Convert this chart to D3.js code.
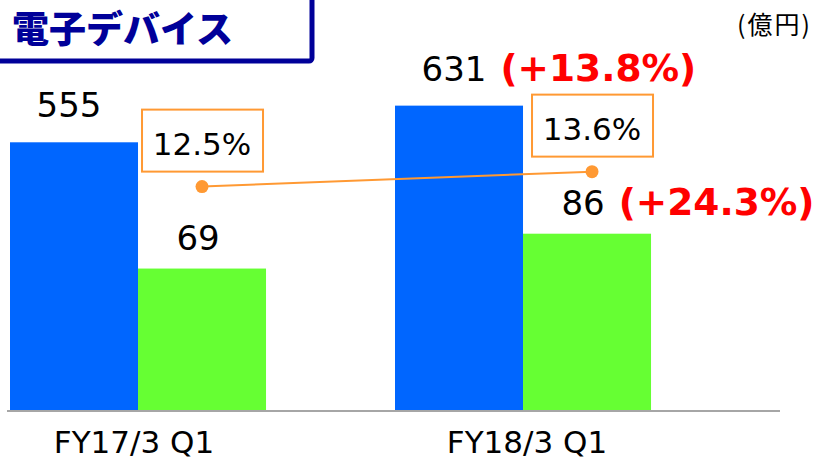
<!DOCTYPE html>
<html>
<head>
<meta charset="utf-8">
<script src="https://cdn.jsdelivr.net/npm/d3@7"></script>
<style>
  body { margin: 0; background: #fff; }
  svg text { font-family: "DejaVu Sans", Verdana, sans-serif; }
</style>
</head>
<body>
<svg id="chart"></svg>
<script>
// values
const categories = ["FY17/3 Q1", "FY18/3 Q1"];
const sales = [555, 631];           // 売上 (億円)
const profit = [69, 86];            // 営業利益 (億円)
const margin = [12.5, 13.6];        // 利益率 %
const salesGrowth = [null, "(+13.8%)"];
const profitGrowth = [null, "(+24.3%)"];

const W = 819, H = 462;
const base = 410;

const svg = d3.select("#chart").attr("width", W).attr("height", H);

// title box, only right and bottom edges are visible
svg.append("rect")
    .attr("x", -20).attr("y", -20)
    .attr("width", 332).attr("height", 81)
    .attr("rx", 3)
    .attr("fill", "#fff")
    .attr("stroke", "#000099")
    .attr("stroke-width", 5);

svg.append("text")
    .attr("x", 12).attr("y", 43)
    .attr("font-size", 37)
    .attr("font-weight", 900)
    .attr("fill", "#000099")
    .style("font-family", "'Noto Sans CJK JP', sans-serif")
    .text("電子デバイス");

svg.append("text")
    .attr("x", 812).attr("y", 34)
    .attr("text-anchor", "end")
    .attr("font-size", 25)
    .attr("letter-spacing", 2)
    .attr("fill", "#000")
    .style("font-family", "'Noto Sans CJK JP', sans-serif")
    .text("(億円)");

const x0 = d3.scaleBand()
    .domain(categories)
    .range([10, 780])
    .paddingInner(0.335)
    .paddingOuter(0.1675)
    .align(0);

const x1 = d3.scaleBand()
    .domain(["sales", "profit"])
    .range([0, x0.bandwidth()]);

const ySales = d3.scaleLinear().domain([0, 850]).range([base, 0]);
const yProfit = d3.scaleLinear().domain([0, 200]).range([base, 0]);
const yMargin = d3.scaleLinear().domain([-3.9, 26.2]).range([base, 0]);

const g = svg.selectAll(".grp")
    .data(categories)
    .join("g")
    .attr("class", "grp")
    .attr("transform", d => `translate(${x0(d)},0)`);

g.append("rect")
    .attr("x", x1("sales"))
    .attr("y", (d, i) => ySales(sales[i]))
    .attr("width", x1.bandwidth())
    .attr("height", (d, i) => base - ySales(sales[i]))
    .attr("fill", "#0066FF");

g.append("rect")
    .attr("x", x1("profit"))
    .attr("y", (d, i) => yProfit(profit[i]))
    .attr("width", x1.bandwidth())
    .attr("height", (d, i) => base - yProfit(profit[i]))
    .attr("fill", "#66FF33");

// axis base line
svg.append("line")
    .attr("x1", 7).attr("x2", 780)
    .attr("y1", base + 1).attr("y2", base + 1)
    .attr("stroke", "#a6a6a6")
    .attr("stroke-width", 2);

// category labels
svg.selectAll(".cat")
    .data(categories)
    .join("text")
    .attr("class", "cat")
    .attr("x", (d, i) => x0(d) + x0.bandwidth() / 2 + (i ? 4 : -4))
    .attr("y", 453)
    .attr("text-anchor", "middle")
    .attr("font-size", 31)
    .attr("fill", "#000")
    .text(d => d);

// value labels with optional growth text
function valueLabel(cx, y, value, growth) {
    const t = svg.append("text")
        .attr("x", cx).attr("y", y)
        .attr("text-anchor", "middle")
        .attr("font-size", 34)
        .attr("fill", "#000")
        .text(value);
    if (growth) {
        const w = t.node().getComputedTextLength();
        svg.append("text")
            .attr("x", cx + w / 2 + 14).attr("y", y)
            .attr("font-size", 37.5)
            .attr("font-weight", "bold")
            .attr("fill", "#FF0000")
            .text(growth);
    }
}

categories.forEach((c, i) => {
    const sx = x0(c) + x1("sales") + x1.bandwidth() / 2 - 5;
    const px = x0(c) + x1("profit") + x1.bandwidth() / 2 - 4;
    valueLabel(sx, ySales(sales[i]) - 25, sales[i], salesGrowth[i]);
    valueLabel(px, yProfit(profit[i]) - 19, profit[i], profitGrowth[i]);
});

// margin line
const mx = (c, i) => x0(c) + x1("profit") + x1.bandwidth() / 2 + i * 5;
const line = d3.line()
    .x(d => d[0])
    .y(d => d[1]);
const pts = categories.map((c, i) => [mx(c, i), yMargin(margin[i])]);

svg.append("path")
    .attr("d", line(pts))
    .attr("fill", "none")
    .attr("stroke", "#FF9933")
    .attr("stroke-width", 2);

svg.selectAll(".dot")
    .data(pts)
    .join("circle")
    .attr("class", "dot")
    .attr("cx", d => d[0])
    .attr("cy", d => d[1])
    .attr("r", 6.5)
    .attr("fill", "#FF9933");

// margin callout boxes
const box = svg.selectAll(".mbox")
    .data(pts)
    .join("g")
    .attr("class", "mbox")
    .attr("transform", d => `translate(${d[0]},${d[1]})`);

box.append("rect")
    .attr("x", -60).attr("y", -77)
    .attr("width", 121).attr("height", 62)
    .attr("fill", "#fff")
    .attr("stroke", "#FF9933")
    .attr("stroke-width", 2);

box.append("text")
    .attr("x", 0).attr("y", -32)
    .attr("text-anchor", "middle")
    .attr("font-size", 31)
    .attr("fill", "#000")
    .text((d, i) => margin[i].toFixed(1) + "%");
</script>
</body>
</html>
